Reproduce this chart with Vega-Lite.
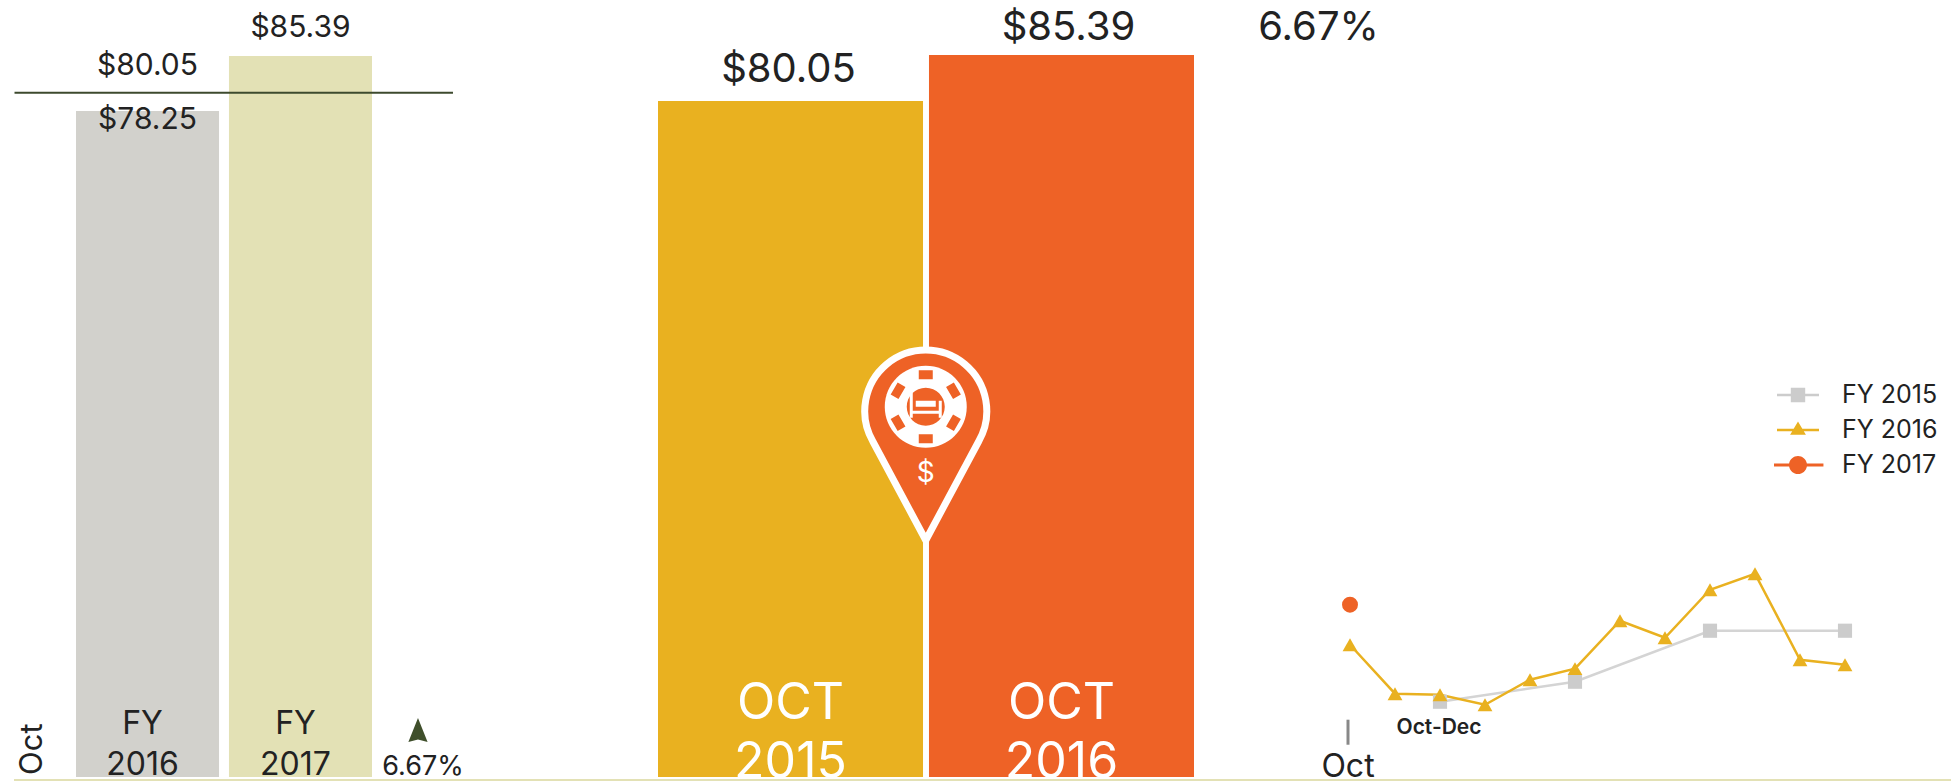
{"$schema":"https://vega.github.io/schema/vega-lite/v6.json","padding":{"left":13,"top":0,"right":0,"bottom":0},"background":"white","config":{"view":{"stroke":null},"text":{"font":"Inter","color":"#222222"}},"spacing":2,"resolve":{"scale":{"color":"independent","shape":"independent"},"legend":{"color":"independent","shape":"independent"}},"datasets":{"fy":[{"period":"FY 2016","value":78.25,"price":"$78.25","label":"FY\n2016"},{"period":"FY 2017","value":85.39,"price":"$85.39","label":"FY\n2017"}],"oct":[{"period":"OCT 2015","value":80.05,"price":"$80.05","label":"OCT\n2015"},{"period":"OCT 2016","value":85.39,"price":"$85.39","label":"OCT\n2016"}],"trend":[{"series":"FY 2015","month":"Dec","value":72.44},{"series":"FY 2015","month":"Mar","value":75.11},{"series":"FY 2015","month":"Jun","value":81.92},{"series":"FY 2015","month":"Sep","value":81.92},{"series":"FY 2016","month":"Oct","value":80.05},{"series":"FY 2016","month":"Nov","value":73.51},{"series":"FY 2016","month":"Dec","value":73.37},{"series":"FY 2016","month":"Jan","value":72.04},{"series":"FY 2016","month":"Feb","value":75.38},{"series":"FY 2016","month":"Mar","value":76.85},{"series":"FY 2016","month":"Apr","value":83.25},{"series":"FY 2016","month":"May","value":80.98},{"series":"FY 2016","month":"Jun","value":87.39},{"series":"FY 2016","month":"Jul","value":89.53},{"series":"FY 2016","month":"Aug","value":78.05},{"series":"FY 2016","month":"Sep","value":77.38},{"series":"FY 2017","month":"Oct","value":85.39}]},"vconcat":[{"resolve":{"scale":{"color":"independent","shape":"independent"},"legend":{"color":"independent","shape":"independent"}},"hconcat":[{"width":480,"height":777,"data":{"name":"fy"},"encoding":{"x":{"field":"period","type":"nominal","axis":null,"scale":{"domain":["FY 2016","FY 2017"],"range":[62,358],"paddingInner":0.065,"paddingOuter":0}},"y":{"field":"value","type":"quantitative","axis":null,"scale":{"domain":[-8.21,92.66],"nice":false,"zero":false}}},"layer":[{"mark":{"type":"bar"},"encoding":{"y2":{"datum":-8.21},"color":{"field":"period","type":"nominal","legend":null,"scale":{"domain":["FY 2016","FY 2017"],"range":["#d2d1cc","#e3e1b5"]}}}},{"data":{"values":[{"start":"FY 2016","end":"FY 2017","level":80.63}]},"mark":{"type":"rule","color":"#3d4a2e","strokeWidth":2,"xOffset":-133,"x2Offset":152.5},"encoding":{"x":{"field":"start","type":"nominal"},"x2":{"field":"end"},"y":{"field":"level","type":"quantitative"}}},{"transform":[{"filter":"datum.period==='FY 2016'"}],"mark":{"type":"text","fontSize":30,"baseline":"middle","dy":9},"encoding":{"text":{"field":"price"}}},{"transform":[{"filter":"datum.period==='FY 2017'"}],"mark":{"type":"text","fontSize":30,"baseline":"middle","dy":-28},"encoding":{"text":{"field":"price"}}},{"data":{"values":[{"period":"FY 2016","value":80.63,"price":"$80.05"}]},"mark":{"type":"text","fontSize":30,"baseline":"middle","dy":-27},"encoding":{"text":{"field":"price"}}},{"mark":{"type":"text","clip":true,"fontSize":32,"fontWeight":400,"baseline":"alphabetic","lineBreak":"\n","lineHeight":41,"dy":-43,"dx":-5},"encoding":{"y":{"datum":-8.21},"text":{"field":"label"}}},{"data":{"values":[{"period":"FY 2016","value":-8.21,"text":"Oct"}]},"mark":{"type":"text","clip":true,"fontSize":31,"angle":270,"align":"left","baseline":"middle","xOffset":-115,"yOffset":-2},"encoding":{"text":{"field":"text"}}},{"data":{"values":[{"period":"FY 2017","value":-8.21,"text":"6.67%"}]},"mark":{"type":"text","clip":true,"fontSize":27,"baseline":"middle","xOffset":122.5,"yOffset":-10},"encoding":{"text":{"field":"text"}}},{"data":{"values":[{"period":"FY 2017","value":-8.21}]},"mark":{"type":"point","filled":true,"opacity":1,"color":"#3f4f2b","shape":"M0,-1L.8,1L0,.8L-.8,1Z","size":576,"xOffset":117.5,"yOffset":-47}}]},{"width":786,"height":777,"data":{"name":"oct"},"encoding":{"x":{"field":"period","type":"nominal","axis":null,"scale":{"domain":["OCT 2015","OCT 2016"],"range":[164,700],"paddingInner":0.022,"paddingOuter":0}},"y":{"field":"value","type":"quantitative","axis":null,"scale":{"domain":[1.57,91.77],"nice":false,"zero":false}}},"layer":[{"mark":{"type":"bar"},"encoding":{"y2":{"datum":1.57},"color":{"field":"period","type":"nominal","legend":null,"scale":{"domain":["OCT 2015","OCT 2016"],"range":["#e9b120","#ee6226"]}}}},{"transform":[{"filter":"datum.period==='OCT 2015'"}],"mark":{"type":"text","fontSize":40,"baseline":"middle","dy":-31,"dx":-2},"encoding":{"text":{"field":"price"}}},{"transform":[{"filter":"datum.period==='OCT 2016'"}],"mark":{"type":"text","fontSize":40,"baseline":"middle","dy":-27,"dx":7},"encoding":{"text":{"field":"price"}}},{"data":{"values":[{"period":"OCT 2016","value":85.39,"change":"6.67%"}]},"mark":{"type":"text","fontSize":40,"baseline":"middle","dy":-27,"dx":257},"encoding":{"text":{"field":"change"}}},{"mark":{"type":"text","clip":true,"fontSize":50,"fontWeight":400,"color":"white","baseline":"alphabetic","lineBreak":"\n","lineHeight":59,"dy":-58},"encoding":{"y":{"datum":1.57},"text":{"field":"label"}}},{"data":{"values":[{"period":"OCT 2015","value":40.2}]},"layer":[{"mark":{"type":"point","filled":true,"opacity":1,"fill":"#ee6226","stroke":"white","strokeWidth":7,"strokeOpacity":1,"strokeJoin":"round","shape":"M0,.96L-.53,-.03A.61,.61 0 1 1 .53,-.03Z","size":40000,"xOffset":135.25}},{"mark":{"type":"point","filled":true,"opacity":1,"color":"white","shape":"M-.41,-.41A.41,.41 0 1 1 .41,-.41A.41,.41 0 1 1 -.41,-.41Z","size":40000,"xOffset":135.25,"yOffset":3.5}},{"mark":{"type":"point","filled":true,"opacity":1,"color":"#ee6226","shape":"M-.19,-.41A.19,.19 0 1 1 .19,-.41A.19,.19 0 1 1 -.19,-.41ZM-.07,-.775H.07V-.685H-.07ZM-.07,-.135H.07V-.045H-.07ZM.351,-.5319L.273,-.4869L.203,-.6081L.281,-.6531ZM-.351,-.5319L-.273,-.4869L-.203,-.6081L-.281,-.6531ZM.351,-.2881L.273,-.3331L.203,-.2119L.281,-.1669ZM-.351,-.2881L-.273,-.3331L-.203,-.2119L-.281,-.1669Z","size":40000,"xOffset":135.25,"yOffset":3.5}},{"mark":{"type":"point","filled":true,"opacity":1,"color":"white","shape":"M-.16,-.55H-.13V-.37H.13V-.47H.16V-.30H.13V-.34H-.13V-.30H-.16ZM-.1,-.47H.1V-.41H-.1Z","size":40000,"xOffset":135.25,"yOffset":3.5}},{"data":{"values":[{"period":"OCT 2015","value":40.2,"text":"$"}]},"mark":{"type":"text","fontSize":28,"fontWeight":400,"color":"white","baseline":"middle","xOffset":135.25,"yOffset":30},"encoding":{"text":{"field":"text"}}}]}]},{"width":672,"height":777,"data":{"name":"trend"},"encoding":{"x":{"field":"month","type":"ordinal","axis":null,"scale":{"type":"point","domain":["Oct","Nov","Dec","Jan","Feb","Mar","Apr","May","Jun","Jul","Aug","Sep"],"range":[70,565],"padding":0}},"y":{"field":"value","type":"quantitative","axis":null,"scale":{"domain":[62.39,166.13],"nice":false,"zero":false}}},"layer":[{"transform":[{"filter":"datum.series==='FY 2015'"}],"mark":{"type":"line","color":"#d4d4d4","strokeWidth":2.5}},{"transform":[{"filter":"datum.series==='FY 2016'"}],"mark":{"type":"line","color":"#e9b120","strokeWidth":2.5}},{"transform":[{"filter":"datum.series==='FY 2015'"}],"mark":{"type":"point","filled":true,"opacity":1,"color":"#cccccc","shape":"square","size":200}},{"transform":[{"filter":"datum.series==='FY 2016'"}],"mark":{"type":"point","filled":true,"opacity":1,"color":"#e9b120","shape":"triangle-up","size":220}},{"transform":[{"filter":"datum.series==='FY 2017'"}],"mark":{"type":"point","filled":true,"opacity":1,"color":"#ee6226","shape":"circle","size":254}},{"mark":{"type":"point","filled":true,"opacity":0},"encoding":{"color":{"field":"series","type":"nominal","scale":{"domain":["FY 2015","FY 2016","FY 2017"],"range":["#cccccc","#e9b120","#ee6226"]},"legend":{"orient":"none","legendX":494,"legendY":377.5,"title":null,"padding":0,"symbolSize":2304,"symbolOpacity":1,"symbolStrokeWidth":0,"clipHeight":35,"rowPadding":0,"labelOffset":20,"labelFont":"Inter","labelFontSize":25,"labelColor":"#222222"}},"shape":{"field":"series","type":"nominal","scale":{"domain":["FY 2015","FY 2016","FY 2017"],"range":["M-.875,-.05H-.3V-.3H.3V-.05H.875V.05H.3V.3H-.3V.05H-.875Z","M-.875,-.05H-.18L0,-.35L.18,-.05H.875V.05H.24L.33,.2H-.33L-.24,.05H-.875Z","M-1.06,-.065H-.37A.375,.375 0 0 1 .37,-.065H1.06V.065H.37A.375,.375 0 0 1 -.37,.065H-1.06Z"]},"legend":{"orient":"none","legendX":494,"legendY":377.5,"title":null,"padding":0,"symbolSize":2304,"symbolOpacity":1,"symbolStrokeWidth":0,"clipHeight":35,"rowPadding":0,"labelOffset":20,"labelFont":"Inter","labelFontSize":25,"labelColor":"#222222"}}}},{"data":{"values":[{"month":"Oct","from":70.04,"to":66.7}]},"mark":{"type":"rule","color":"#888888","strokeWidth":3,"xOffset":-2},"encoding":{"y":{"field":"from","type":"quantitative"},"y2":{"field":"to"}}},{"data":{"values":[{"month":"Oct","value":63.76,"text":"Oct"}]},"mark":{"type":"text","clip":true,"fontSize":32,"baseline":"middle","xOffset":-2},"encoding":{"text":{"field":"text"}}},{"data":{"values":[{"month":"Dec","value":69.24,"text":"Oct-Dec"}]},"mark":{"type":"text","fontSize":21,"fontWeight":600,"baseline":"middle","dy":2,"dx":-1},"encoding":{"text":{"field":"text"}}}]}],"spacing":0,"bounds":"flush"},{"width":1938,"height":2,"data":{"values":[{"from":0,"to":1}]},"mark":{"type":"rect","color":"#e3e1b5"},"encoding":{"x":{"field":"from","type":"quantitative","axis":null,"scale":{"domain":[0,1]}},"x2":{"field":"to"}}}]}
